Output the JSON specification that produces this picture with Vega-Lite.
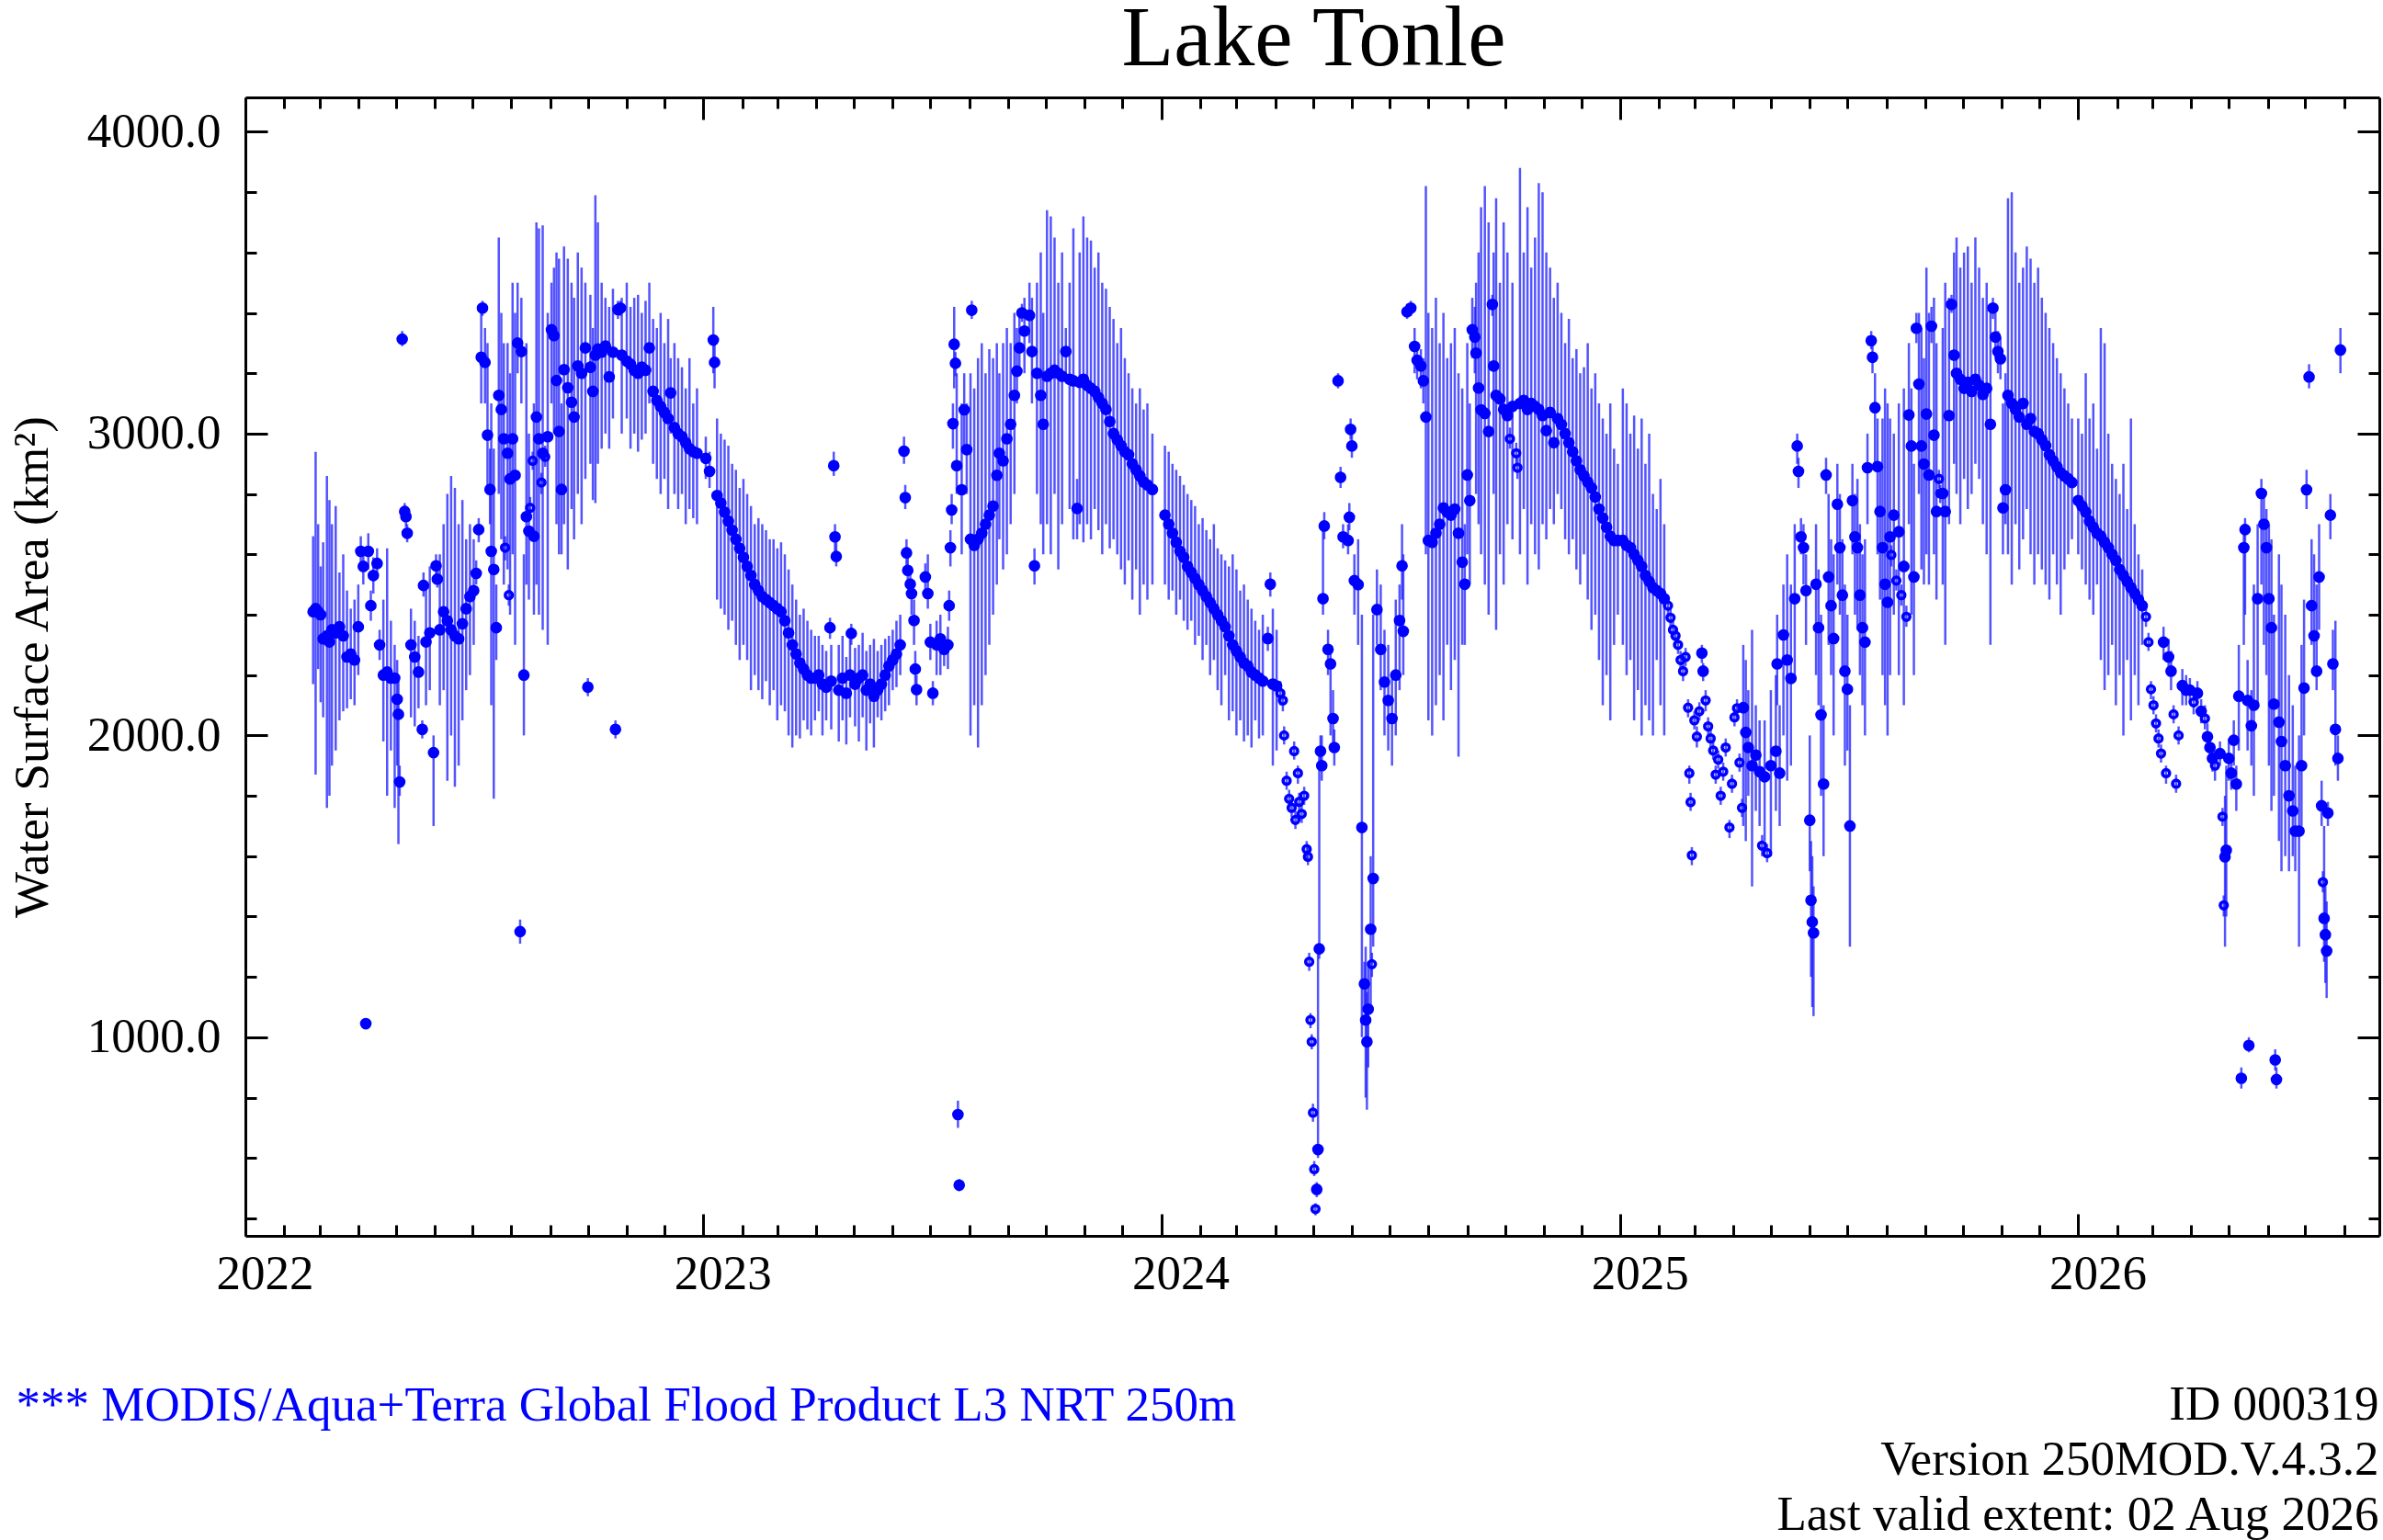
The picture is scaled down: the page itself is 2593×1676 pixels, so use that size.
{
  "$schema": "https://vega.github.io/schema/vega-lite/v6.json",
  "width": 2322, "height": 1239,
  "autosize": {"type": "none"},
  "padding": {"left": 267, "top": 106, "right": 4, "bottom": 331},
  "background": "white",
  "config": {
    "view": {"stroke": null},
    "font": "Liberation Serif",
    "axis": {"grid": false, "domainColor": "black", "domainWidth": 3, "tickColor": "black", "tickWidth": 3,
             "labelFont": "Liberation Serif", "labelFontSize": 53, "labelColor": "black",
             "titleFont": "Liberation Serif", "titleFontSize": 53, "titleFontWeight": "normal", "titleColor": "black",
             "labelFlush": false, "labelOverlap": false, "labelBound": false}
  },
  "data": {"values": [
    {"t":"2022-02-24","v":2410,"lo":2170,"hi":2660},
    {"t":"2022-02-26","v":2420,"lo":1870,"hi":2940},
    {"t":"2022-02-28","v":2410,"lo":2220,"hi":2700},
    {"t":"2022-03-02","v":2400,"lo":2110,"hi":2560},
    {"t":"2022-03-04","v":2320,"lo":2060,"hi":2640},
    {"t":"2022-03-07","v":2330,"lo":1760,"hi":2860},
    {"t":"2022-03-09","v":2310,"lo":1800,"hi":2780},
    {"t":"2022-03-11","v":2350,"lo":1900,"hi":2700},
    {"t":"2022-03-14","v":2340,"lo":1950,"hi":2760},
    {"t":"2022-03-17","v":2360,"lo":2050,"hi":2540},
    {"t":"2022-03-20","v":2330,"lo":2080,"hi":2600},
    {"t":"2022-03-23","v":2260,"lo":2090,"hi":2480},
    {"t":"2022-03-26","v":2270,"lo":2120,"hi":2420},
    {"t":"2022-03-29","v":2250,"lo":2100,"hi":2450},
    {"t":"2022-04-01","v":2360,"lo":2200,"hi":2500},
    {"t":"2022-04-03","v":2610,"lo":2560,"hi":2660},
    {"t":"2022-04-05","v":2560,"lo":2500,"hi":2620},
    {"t":"2022-04-07","v":1045,"lo":1030,"hi":1060},
    {"t":"2022-04-09","v":2610,"lo":2550,"hi":2670},
    {"t":"2022-04-11","v":2430,"lo":2380,"hi":2480},
    {"t":"2022-04-13","v":2530,"lo":2470,"hi":2590},
    {"t":"2022-04-16","v":2570,"lo":2520,"hi":2620},
    {"t":"2022-04-18","v":2300,"lo":2250,"hi":2350},
    {"t":"2022-04-21","v":2200,"lo":1980,"hi":2450},
    {"t":"2022-04-24","v":2210,"lo":1800,"hi":2620},
    {"t":"2022-04-27","v":2190,"lo":1950,"hi":2380},
    {"t":"2022-04-30","v":2190,"lo":1760,"hi":2300},
    {"t":"2022-05-02","v":2120,"lo":1900,"hi":2250},
    {"t":"2022-05-03","v":2070,"lo":1640,"hi":2200},
    {"t":"2022-05-04","v":1846,"lo":1800,"hi":1900},
    {"t":"2022-05-06","v":3313,"lo":3290,"hi":3340},
    {"t":"2022-05-08","v":2742,"lo":2710,"hi":2770},
    {"t":"2022-05-09","v":2725,"lo":2690,"hi":2760},
    {"t":"2022-05-10","v":2670,"lo":2640,"hi":2700},
    {"t":"2022-05-13","v":2300,"lo":2060,"hi":2420},
    {"t":"2022-05-16","v":2260,"lo":2030,"hi":2380},
    {"t":"2022-05-19","v":2210,"lo":2090,"hi":2330},
    {"t":"2022-05-22","v":2020,"lo":1990,"hi":2050},
    {"t":"2022-05-23","v":2497,"lo":2460,"hi":2540},
    {"t":"2022-05-25","v":2310,"lo":2100,"hi":2500},
    {"t":"2022-05-28","v":2340,"lo":2150,"hi":2560},
    {"t":"2022-05-31","v":1943,"lo":1700,"hi":2000},
    {"t":"2022-06-02","v":2562,"lo":2530,"hi":2600},
    {"t":"2022-06-03","v":2518,"lo":2490,"hi":2550},
    {"t":"2022-06-05","v":2350,"lo":2100,"hi":2600},
    {"t":"2022-06-08","v":2410,"lo":2150,"hi":2700},
    {"t":"2022-06-11","v":2380,"lo":1850,"hi":2800},
    {"t":"2022-06-14","v":2350,"lo":2000,"hi":2860},
    {"t":"2022-06-17","v":2330,"lo":1830,"hi":2820},
    {"t":"2022-06-20","v":2320,"lo":1900,"hi":2700},
    {"t":"2022-06-23","v":2370,"lo":2050,"hi":2780},
    {"t":"2022-06-26","v":2420,"lo":2150,"hi":2650},
    {"t":"2022-06-29","v":2460,"lo":2200,"hi":2700},
    {"t":"2022-07-02","v":2480,"lo":2300,"hi":2650},
    {"t":"2022-07-04","v":2537,"lo":2500,"hi":2580},
    {"t":"2022-07-06","v":2682,"lo":2640,"hi":2720},
    {"t":"2022-07-08","v":3253,"lo":3100,"hi":3400},
    {"t":"2022-07-09","v":3416,"lo":3390,"hi":3440},
    {"t":"2022-07-11","v":3236,"lo":3100,"hi":3350},
    {"t":"2022-07-13","v":2995,"lo":2800,"hi":3300},
    {"t":"2022-07-15","v":2815,"lo":2700,"hi":2950},
    {"t":"2022-07-16","v":2610,"lo":2100,"hi":3100},
    {"t":"2022-07-18","v":2550,"lo":1790,"hi":2950},
    {"t":"2022-07-20","v":2357,"lo":2250,"hi":2500},
    {"t":"2022-07-22","v":3127,"lo":2800,"hi":3650},
    {"t":"2022-07-24","v":3080,"lo":2650,"hi":3400},
    {"t":"2022-07-26","v":2983,"lo":2500,"hi":3300},
    {"t":"2022-07-27","v":2622,"lo":2580,"hi":2660,"o":1},
    {"t":"2022-07-29","v":2935,"lo":2550,"hi":3300},
    {"t":"2022-07-30","v":2465,"lo":2430,"hi":2500,"o":1},
    {"t":"2022-07-31","v":2850,"lo":2400,"hi":3200},
    {"t":"2022-08-02","v":2983,"lo":2600,"hi":3500},
    {"t":"2022-08-04","v":2862,"lo":2300,"hi":3400},
    {"t":"2022-08-06","v":3300,"lo":3200,"hi":3500},
    {"t":"2022-08-08","v":1350,"lo":1310,"hi":1390},
    {"t":"2022-08-09","v":3272,"lo":3100,"hi":3450},
    {"t":"2022-08-11","v":2200,"lo":2000,"hi":2600},
    {"t":"2022-08-13","v":2725,"lo":2500,"hi":3300},
    {"t":"2022-08-15","v":2677,"lo":2450,"hi":3000},
    {"t":"2022-08-16","v":2754,"lo":2720,"hi":2790,"o":1},
    {"t":"2022-08-18","v":2910,"lo":2880,"hi":2940,"o":1},
    {"t":"2022-08-19","v":2660,"lo":2400,"hi":3100},
    {"t":"2022-08-21","v":3055,"lo":2500,"hi":3700},
    {"t":"2022-08-23","v":2983,"lo":2400,"hi":3680},
    {"t":"2022-08-25","v":2838,"lo":2800,"hi":2870,"o":1},
    {"t":"2022-08-26","v":2935,"lo":2350,"hi":3690},
    {"t":"2022-08-28","v":2923,"lo":2890,"hi":2960,"o":1},
    {"t":"2022-08-30","v":2990,"lo":2300,"hi":3400},
    {"t":"2022-09-02","v":3344,"lo":3100,"hi":3500},
    {"t":"2022-09-04","v":3325,"lo":3000,"hi":3550},
    {"t":"2022-09-06","v":3176,"lo":2700,"hi":3600},
    {"t":"2022-09-08","v":3007,"lo":2600,"hi":3580},
    {"t":"2022-09-10","v":2815,"lo":2600,"hi":3100},
    {"t":"2022-09-12","v":3212,"lo":2700,"hi":3620},
    {"t":"2022-09-15","v":3152,"lo":2550,"hi":3580},
    {"t":"2022-09-18","v":3104,"lo":2750,"hi":3500},
    {"t":"2022-09-20","v":3055,"lo":2650,"hi":3450},
    {"t":"2022-09-23","v":3224,"lo":2800,"hi":3600},
    {"t":"2022-09-26","v":3200,"lo":2700,"hi":3550},
    {"t":"2022-09-29","v":3284,"lo":2850,"hi":3500},
    {"t":"2022-10-01","v":2160,"lo":2130,"hi":2190},
    {"t":"2022-10-03","v":3220,"lo":2900,"hi":3460},
    {"t":"2022-10-05","v":3140,"lo":2780,"hi":3350},
    {"t":"2022-10-07","v":3260,"lo":2770,"hi":3790},
    {"t":"2022-10-09","v":3280,"lo":2900,"hi":3700},
    {"t":"2022-10-12","v":3270,"lo":2950,"hi":3500},
    {"t":"2022-10-15","v":3290,"lo":3000,"hi":3450},
    {"t":"2022-10-18","v":3188,"lo":2950,"hi":3420},
    {"t":"2022-10-21","v":3270,"lo":3050,"hi":3480},
    {"t":"2022-10-23","v":2020,"lo":1990,"hi":2050},
    {"t":"2022-10-25","v":3411,"lo":3380,"hi":3440},
    {"t":"2022-10-27","v":3416,"lo":3390,"hi":3440},
    {"t":"2022-10-28","v":3260,"lo":3000,"hi":3450},
    {"t":"2022-11-01","v":3240,"lo":3050,"hi":3500},
    {"t":"2022-11-04","v":3230,"lo":2950,"hi":3420},
    {"t":"2022-11-07","v":3210,"lo":3000,"hi":3450},
    {"t":"2022-11-10","v":3200,"lo":2940,"hi":3460},
    {"t":"2022-11-13","v":3220,"lo":2980,"hi":3400},
    {"t":"2022-11-16","v":3210,"lo":3000,"hi":3440},
    {"t":"2022-11-19","v":3284,"lo":3100,"hi":3500},
    {"t":"2022-11-22","v":3140,"lo":2900,"hi":3380},
    {"t":"2022-11-25","v":3110,"lo":2850,"hi":3350},
    {"t":"2022-11-28","v":3090,"lo":2800,"hi":3400},
    {"t":"2022-12-01","v":3070,"lo":2850,"hi":3300},
    {"t":"2022-12-04","v":3050,"lo":2750,"hi":3380},
    {"t":"2022-12-06","v":3135,"lo":3000,"hi":3250},
    {"t":"2022-12-09","v":3020,"lo":2800,"hi":3300},
    {"t":"2022-12-12","v":3000,"lo":2750,"hi":3250},
    {"t":"2022-12-15","v":2990,"lo":2800,"hi":3220},
    {"t":"2022-12-18","v":2970,"lo":2700,"hi":3150},
    {"t":"2022-12-21","v":2950,"lo":2750,"hi":3250},
    {"t":"2022-12-24","v":2940,"lo":2720,"hi":3100},
    {"t":"2022-12-27","v":2935,"lo":2700,"hi":3150},
    {"t":"2023-01-03","v":2918,"lo":2850,"hi":2990},
    {"t":"2023-01-06","v":2875,"lo":2820,"hi":2940},
    {"t":"2023-01-09","v":3310,"lo":3200,"hi":3420},
    {"t":"2023-01-10","v":3236,"lo":3150,"hi":3300},
    {"t":"2023-01-12","v":2795,"lo":2450,"hi":3050},
    {"t":"2023-01-15","v":2770,"lo":2420,"hi":3000},
    {"t":"2023-01-18","v":2740,"lo":2400,"hi":2980},
    {"t":"2023-01-21","v":2710,"lo":2350,"hi":2960},
    {"t":"2023-01-24","v":2680,"lo":2380,"hi":2900},
    {"t":"2023-01-27","v":2650,"lo":2300,"hi":2880},
    {"t":"2023-01-30","v":2620,"lo":2250,"hi":2820},
    {"t":"2023-02-02","v":2590,"lo":2300,"hi":2850},
    {"t":"2023-02-05","v":2560,"lo":2250,"hi":2800},
    {"t":"2023-02-08","v":2530,"lo":2150,"hi":2760},
    {"t":"2023-02-11","v":2500,"lo":2200,"hi":2700},
    {"t":"2023-02-14","v":2480,"lo":2150,"hi":2720},
    {"t":"2023-02-17","v":2460,"lo":2120,"hi":2700},
    {"t":"2023-02-20","v":2450,"lo":2180,"hi":2680},
    {"t":"2023-02-23","v":2440,"lo":2100,"hi":2650},
    {"t":"2023-02-26","v":2430,"lo":2150,"hi":2650},
    {"t":"2023-03-01","v":2420,"lo":2050,"hi":2620},
    {"t":"2023-03-04","v":2410,"lo":2100,"hi":2640},
    {"t":"2023-03-07","v":2380,"lo":2080,"hi":2600},
    {"t":"2023-03-10","v":2340,"lo":2000,"hi":2550},
    {"t":"2023-03-13","v":2300,"lo":1960,"hi":2500},
    {"t":"2023-03-16","v":2270,"lo":2000,"hi":2450},
    {"t":"2023-03-19","v":2240,"lo":1990,"hi":2400},
    {"t":"2023-03-22","v":2220,"lo":2050,"hi":2420},
    {"t":"2023-03-25","v":2200,"lo":2020,"hi":2380},
    {"t":"2023-03-28","v":2190,"lo":2000,"hi":2350},
    {"t":"2023-03-31","v":2190,"lo":2050,"hi":2330},
    {"t":"2023-04-03","v":2200,"lo":2080,"hi":2330},
    {"t":"2023-04-06","v":2170,"lo":2000,"hi":2300},
    {"t":"2023-04-09","v":2160,"lo":2050,"hi":2280},
    {"t":"2023-04-12","v":2357,"lo":2320,"hi":2390},
    {"t":"2023-04-13","v":2180,"lo":2020,"hi":2300},
    {"t":"2023-04-15","v":2894,"lo":2860,"hi":2940},
    {"t":"2023-04-16","v":2658,"lo":2610,"hi":2700},
    {"t":"2023-04-17","v":2593,"lo":2560,"hi":2640},
    {"t":"2023-04-19","v":2150,"lo":1980,"hi":2300},
    {"t":"2023-04-22","v":2190,"lo":2050,"hi":2330},
    {"t":"2023-04-25","v":2140,"lo":1970,"hi":2260},
    {"t":"2023-04-28","v":2200,"lo":2060,"hi":2320},
    {"t":"2023-04-29","v":2338,"lo":2300,"hi":2370},
    {"t":"2023-05-02","v":2170,"lo":2030,"hi":2290},
    {"t":"2023-05-05","v":2190,"lo":1980,"hi":2300},
    {"t":"2023-05-08","v":2200,"lo":2060,"hi":2340},
    {"t":"2023-05-11","v":2150,"lo":1950,"hi":2280},
    {"t":"2023-05-14","v":2170,"lo":2040,"hi":2300},
    {"t":"2023-05-17","v":2130,"lo":1960,"hi":2320},
    {"t":"2023-05-20","v":2150,"lo":2060,"hi":2280},
    {"t":"2023-05-23","v":2170,"lo":2050,"hi":2300},
    {"t":"2023-05-26","v":2200,"lo":2080,"hi":2320},
    {"t":"2023-05-29","v":2230,"lo":2100,"hi":2330},
    {"t":"2023-06-01","v":2250,"lo":2150,"hi":2350},
    {"t":"2023-06-04","v":2270,"lo":2160,"hi":2380},
    {"t":"2023-06-07","v":2300,"lo":2200,"hi":2400},
    {"t":"2023-06-10","v":2942,"lo":2900,"hi":2990},
    {"t":"2023-06-11","v":2788,"lo":2750,"hi":2830},
    {"t":"2023-06-12","v":2605,"lo":2560,"hi":2650},
    {"t":"2023-06-13","v":2547,"lo":2500,"hi":2600},
    {"t":"2023-06-15","v":2501,"lo":2460,"hi":2540},
    {"t":"2023-06-16","v":2470,"lo":2400,"hi":2520},
    {"t":"2023-06-18","v":2381,"lo":2300,"hi":2450},
    {"t":"2023-06-19","v":2220,"lo":2150,"hi":2280},
    {"t":"2023-06-20","v":2152,"lo":2100,"hi":2200},
    {"t":"2023-06-27","v":2525,"lo":2480,"hi":2570},
    {"t":"2023-06-29","v":2470,"lo":2420,"hi":2600},
    {"t":"2023-07-01","v":2309,"lo":2250,"hi":2370},
    {"t":"2023-07-03","v":2140,"lo":2100,"hi":2180},
    {"t":"2023-07-06","v":2300,"lo":2200,"hi":2380},
    {"t":"2023-07-09","v":2320,"lo":2200,"hi":2400},
    {"t":"2023-07-12","v":2285,"lo":2230,"hi":2330},
    {"t":"2023-07-15","v":2300,"lo":2220,"hi":2360},
    {"t":"2023-07-16","v":2430,"lo":2380,"hi":2480},
    {"t":"2023-07-17","v":2622,"lo":2560,"hi":2680},
    {"t":"2023-07-18","v":2747,"lo":2700,"hi":2800},
    {"t":"2023-07-19","v":3033,"lo":2950,"hi":3100},
    {"t":"2023-07-20","v":3296,"lo":3150,"hi":3420},
    {"t":"2023-07-21","v":3233,"lo":3190,"hi":3270},
    {"t":"2023-07-22","v":2894,"lo":2800,"hi":3200},
    {"t":"2023-07-23","v":744,"lo":700,"hi":790},
    {"t":"2023-07-24","v":510,"lo":490,"hi":530},
    {"t":"2023-07-26","v":2814,"lo":2600,"hi":3100},
    {"t":"2023-07-28","v":3079,"lo":2950,"hi":3200},
    {"t":"2023-07-30","v":2947,"lo":2800,"hi":3100},
    {"t":"2023-08-02","v":2650,"lo":2000,"hi":3200},
    {"t":"2023-08-03","v":3409,"lo":3380,"hi":3440},
    {"t":"2023-08-05","v":2630,"lo":2100,"hi":3150},
    {"t":"2023-08-08","v":2650,"lo":1960,"hi":3250},
    {"t":"2023-08-11","v":2670,"lo":2100,"hi":3300},
    {"t":"2023-08-14","v":2700,"lo":2200,"hi":3200},
    {"t":"2023-08-17","v":2730,"lo":2300,"hi":3280},
    {"t":"2023-08-20","v":2760,"lo":2400,"hi":3250},
    {"t":"2023-08-23","v":2862,"lo":2500,"hi":3300},
    {"t":"2023-08-25","v":2935,"lo":2650,"hi":3200},
    {"t":"2023-08-28","v":2910,"lo":2550,"hi":3300},
    {"t":"2023-08-31","v":2983,"lo":2600,"hi":3350},
    {"t":"2023-09-03","v":3031,"lo":2700,"hi":3300},
    {"t":"2023-09-06","v":3127,"lo":2800,"hi":3400},
    {"t":"2023-09-08","v":3207,"lo":3100,"hi":3350},
    {"t":"2023-09-10","v":3284,"lo":3200,"hi":3400},
    {"t":"2023-09-12","v":3400,"lo":3370,"hi":3430},
    {"t":"2023-09-14","v":3340,"lo":3200,"hi":3450},
    {"t":"2023-09-18","v":3392,"lo":3300,"hi":3500},
    {"t":"2023-09-20","v":3272,"lo":3100,"hi":3450},
    {"t":"2023-09-22","v":2562,"lo":2500,"hi":2620},
    {"t":"2023-09-24","v":3200,"lo":2800,"hi":3500},
    {"t":"2023-09-27","v":3127,"lo":2700,"hi":3600},
    {"t":"2023-09-29","v":3031,"lo":2600,"hi":3400},
    {"t":"2023-10-02","v":3190,"lo":2700,"hi":3740},
    {"t":"2023-10-05","v":3200,"lo":2600,"hi":3720},
    {"t":"2023-10-08","v":3210,"lo":2800,"hi":3650},
    {"t":"2023-10-11","v":3200,"lo":2550,"hi":3500},
    {"t":"2023-10-14","v":3190,"lo":2700,"hi":3600},
    {"t":"2023-10-17","v":3272,"lo":3200,"hi":3350},
    {"t":"2023-10-20","v":3180,"lo":2750,"hi":3500},
    {"t":"2023-10-23","v":3175,"lo":2650,"hi":3680},
    {"t":"2023-10-26","v":2752,"lo":2650,"hi":2850},
    {"t":"2023-10-28","v":3170,"lo":2700,"hi":3600},
    {"t":"2023-10-31","v":3180,"lo":2640,"hi":3720},
    {"t":"2023-11-03","v":3160,"lo":2700,"hi":3650},
    {"t":"2023-11-06","v":3150,"lo":2650,"hi":3640},
    {"t":"2023-11-09","v":3140,"lo":2750,"hi":3550},
    {"t":"2023-11-12","v":3120,"lo":2680,"hi":3600},
    {"t":"2023-11-15","v":3100,"lo":2600,"hi":3500},
    {"t":"2023-11-18","v":3080,"lo":2700,"hi":3480},
    {"t":"2023-11-21","v":3040,"lo":2620,"hi":3420},
    {"t":"2023-11-24","v":3000,"lo":2650,"hi":3380},
    {"t":"2023-11-27","v":2980,"lo":2600,"hi":3300},
    {"t":"2023-11-30","v":2960,"lo":2550,"hi":3350},
    {"t":"2023-12-03","v":2940,"lo":2500,"hi":3250},
    {"t":"2023-12-06","v":2930,"lo":2580,"hi":3200},
    {"t":"2023-12-09","v":2900,"lo":2450,"hi":3150},
    {"t":"2023-12-12","v":2880,"lo":2550,"hi":3100},
    {"t":"2023-12-15","v":2860,"lo":2400,"hi":3150},
    {"t":"2023-12-18","v":2840,"lo":2500,"hi":3080},
    {"t":"2023-12-21","v":2830,"lo":2450,"hi":3100},
    {"t":"2023-12-25","v":2815,"lo":2500,"hi":3000},
    {"t":"2024-01-04","v":2730,"lo":2500,"hi":2960},
    {"t":"2024-01-07","v":2700,"lo":2450,"hi":2940},
    {"t":"2024-01-10","v":2670,"lo":2480,"hi":2900},
    {"t":"2024-01-13","v":2640,"lo":2400,"hi":2880},
    {"t":"2024-01-16","v":2610,"lo":2450,"hi":2860},
    {"t":"2024-01-19","v":2590,"lo":2380,"hi":2830},
    {"t":"2024-01-22","v":2560,"lo":2350,"hi":2800},
    {"t":"2024-01-25","v":2540,"lo":2380,"hi":2780},
    {"t":"2024-01-28","v":2520,"lo":2300,"hi":2760},
    {"t":"2024-01-31","v":2500,"lo":2330,"hi":2700},
    {"t":"2024-02-03","v":2480,"lo":2250,"hi":2720},
    {"t":"2024-02-06","v":2460,"lo":2300,"hi":2680},
    {"t":"2024-02-09","v":2440,"lo":2200,"hi":2650},
    {"t":"2024-02-12","v":2420,"lo":2250,"hi":2700},
    {"t":"2024-02-15","v":2400,"lo":2150,"hi":2620},
    {"t":"2024-02-18","v":2380,"lo":2100,"hi":2600},
    {"t":"2024-02-21","v":2360,"lo":2200,"hi":2580},
    {"t":"2024-02-24","v":2330,"lo":2050,"hi":2560},
    {"t":"2024-02-27","v":2300,"lo":2080,"hi":2600},
    {"t":"2024-03-01","v":2280,"lo":2000,"hi":2550},
    {"t":"2024-03-04","v":2260,"lo":2050,"hi":2480},
    {"t":"2024-03-07","v":2240,"lo":1980,"hi":2500},
    {"t":"2024-03-10","v":2230,"lo":2000,"hi":2450},
    {"t":"2024-03-13","v":2210,"lo":1960,"hi":2420},
    {"t":"2024-03-16","v":2200,"lo":2050,"hi":2380},
    {"t":"2024-03-19","v":2190,"lo":1990,"hi":2350},
    {"t":"2024-03-22","v":2180,"lo":2000,"hi":2400},
    {"t":"2024-03-26","v":2321,"lo":2280,"hi":2360},
    {"t":"2024-03-28","v":2501,"lo":2460,"hi":2540},
    {"t":"2024-03-30","v":2170,"lo":1900,"hi":2420},
    {"t":"2024-04-02","v":2164,"lo":1950,"hi":2350},
    {"t":"2024-04-05","v":2140,"lo":2100,"hi":2180,"o":1},
    {"t":"2024-04-07","v":2116,"lo":2080,"hi":2150,"o":1},
    {"t":"2024-04-08","v":2000,"lo":1970,"hi":2030,"o":1},
    {"t":"2024-04-10","v":1850,"lo":1820,"hi":1880,"o":1},
    {"t":"2024-04-12","v":1790,"lo":1760,"hi":1820,"o":1},
    {"t":"2024-04-14","v":1760,"lo":1730,"hi":1790,"o":1},
    {"t":"2024-04-16","v":1948,"lo":1920,"hi":1980,"o":1},
    {"t":"2024-04-17","v":1720,"lo":1690,"hi":1750,"o":1},
    {"t":"2024-04-19","v":1875,"lo":1840,"hi":1900,"o":1},
    {"t":"2024-04-20","v":1780,"lo":1750,"hi":1810,"o":1},
    {"t":"2024-04-22","v":1740,"lo":1710,"hi":1770,"o":1},
    {"t":"2024-04-24","v":1800,"lo":1770,"hi":1830,"o":1},
    {"t":"2024-04-26","v":1623,"lo":1590,"hi":1650,"o":1},
    {"t":"2024-04-27","v":1598,"lo":1570,"hi":1630,"o":1},
    {"t":"2024-04-28","v":1250,"lo":1220,"hi":1280,"o":1},
    {"t":"2024-04-29","v":1057,"lo":1030,"hi":1080,"o":1},
    {"t":"2024-04-30","v":985,"lo":960,"hi":1010,"o":1},
    {"t":"2024-05-01","v":750,"lo":720,"hi":780,"o":1},
    {"t":"2024-05-02","v":563,"lo":540,"hi":590,"o":1},
    {"t":"2024-05-03","v":431,"lo":410,"hi":450,"o":1},
    {"t":"2024-05-04","v":496,"lo":470,"hi":520},
    {"t":"2024-05-05","v":628,"lo":600,"hi":1290},
    {"t":"2024-05-06","v":1293,"lo":1260,"hi":1960},
    {"t":"2024-05-07","v":1948,"lo":1900,"hi":2000},
    {"t":"2024-05-08","v":1900,"lo":1850,"hi":2000},
    {"t":"2024-05-09","v":2453,"lo":2400,"hi":2700},
    {"t":"2024-05-10","v":2694,"lo":2650,"hi":2740},
    {"t":"2024-05-13","v":2285,"lo":2200,"hi":2350},
    {"t":"2024-05-15","v":2237,"lo":2000,"hi":2300},
    {"t":"2024-05-17","v":2056,"lo":1950,"hi":2150},
    {"t":"2024-05-18","v":1960,"lo":1900,"hi":2020},
    {"t":"2024-05-21","v":3175,"lo":3150,"hi":3200},
    {"t":"2024-05-23","v":2855,"lo":2820,"hi":2890},
    {"t":"2024-05-25","v":2658,"lo":2620,"hi":2700},
    {"t":"2024-05-29","v":2646,"lo":2600,"hi":2700},
    {"t":"2024-05-30","v":2723,"lo":2680,"hi":2770},
    {"t":"2024-05-31","v":3014,"lo":2980,"hi":3050},
    {"t":"2024-06-01","v":2959,"lo":2920,"hi":3000},
    {"t":"2024-06-03","v":2513,"lo":2400,"hi":2600},
    {"t":"2024-06-06","v":2500,"lo":2300,"hi":2650},
    {"t":"2024-06-09","v":1695,"lo":1000,"hi":2400},
    {"t":"2024-06-11","v":1177,"lo":1100,"hi":1250},
    {"t":"2024-06-12","v":1057,"lo":800,"hi":1300},
    {"t":"2024-06-13","v":985,"lo":760,"hi":1150},
    {"t":"2024-06-14","v":1093,"lo":900,"hi":1250},
    {"t":"2024-06-16","v":1358,"lo":1100,"hi":1600},
    {"t":"2024-06-17","v":1242,"lo":1200,"hi":1280,"o":1},
    {"t":"2024-06-18","v":1526,"lo":1300,"hi":2400},
    {"t":"2024-06-21","v":2417,"lo":2300,"hi":2550},
    {"t":"2024-06-24","v":2285,"lo":2150,"hi":2500},
    {"t":"2024-06-27","v":2177,"lo":2000,"hi":2350},
    {"t":"2024-06-30","v":2116,"lo":1950,"hi":2300},
    {"t":"2024-07-03","v":2056,"lo":1900,"hi":2200},
    {"t":"2024-07-06","v":2200,"lo":2000,"hi":2450},
    {"t":"2024-07-09","v":2381,"lo":2150,"hi":2500},
    {"t":"2024-07-11","v":2562,"lo":2450,"hi":2700},
    {"t":"2024-07-12","v":2345,"lo":2200,"hi":2600},
    {"t":"2024-07-15","v":3404,"lo":3380,"hi":3430},
    {"t":"2024-07-18","v":3416,"lo":3390,"hi":3440},
    {"t":"2024-07-21","v":3289,"lo":3200,"hi":3350},
    {"t":"2024-07-23","v":3243,"lo":3180,"hi":3300},
    {"t":"2024-07-26","v":3224,"lo":3150,"hi":3280},
    {"t":"2024-07-28","v":3175,"lo":3100,"hi":3250},
    {"t":"2024-07-30","v":3055,"lo":2600,"hi":3820},
    {"t":"2024-08-01","v":2646,"lo":2050,"hi":3400},
    {"t":"2024-08-04","v":2640,"lo":2000,"hi":3350},
    {"t":"2024-08-07","v":2670,"lo":2100,"hi":3450},
    {"t":"2024-08-10","v":2700,"lo":2200,"hi":3300},
    {"t":"2024-08-13","v":2754,"lo":2050,"hi":3400},
    {"t":"2024-08-16","v":2740,"lo":2300,"hi":3250},
    {"t":"2024-08-19","v":2730,"lo":2150,"hi":3300},
    {"t":"2024-08-22","v":2750,"lo":2250,"hi":3350},
    {"t":"2024-08-25","v":2670,"lo":1930,"hi":3200},
    {"t":"2024-08-28","v":2574,"lo":2300,"hi":3150},
    {"t":"2024-08-30","v":2501,"lo":2300,"hi":2700},
    {"t":"2024-09-01","v":2863,"lo":2600,"hi":3300},
    {"t":"2024-09-03","v":2778,"lo":2500,"hi":3100},
    {"t":"2024-09-05","v":3344,"lo":3250,"hi":3450},
    {"t":"2024-09-07","v":3320,"lo":3200,"hi":3420},
    {"t":"2024-09-08","v":3267,"lo":2800,"hi":3500},
    {"t":"2024-09-10","v":3151,"lo":2700,"hi":3600},
    {"t":"2024-09-12","v":3079,"lo":2600,"hi":3750},
    {"t":"2024-09-15","v":3067,"lo":2500,"hi":3820},
    {"t":"2024-09-18","v":3007,"lo":2400,"hi":3700},
    {"t":"2024-09-21","v":3428,"lo":3390,"hi":3460},
    {"t":"2024-09-22","v":3224,"lo":2800,"hi":3600},
    {"t":"2024-09-24","v":3127,"lo":2350,"hi":3780},
    {"t":"2024-09-27","v":3115,"lo":2600,"hi":3500},
    {"t":"2024-09-30","v":3080,"lo":2500,"hi":3700},
    {"t":"2024-10-03","v":3060,"lo":2700,"hi":3600},
    {"t":"2024-10-05","v":2983,"lo":2950,"hi":3020,"o":1},
    {"t":"2024-10-07","v":3090,"lo":2650,"hi":3500},
    {"t":"2024-10-10","v":2935,"lo":2900,"hi":2970,"o":1},
    {"t":"2024-10-11","v":2887,"lo":2850,"hi":2920,"o":1},
    {"t":"2024-10-13","v":3100,"lo":2600,"hi":3880},
    {"t":"2024-10-16","v":3110,"lo":2750,"hi":3600},
    {"t":"2024-10-19","v":3080,"lo":2500,"hi":3750},
    {"t":"2024-10-22","v":3100,"lo":2700,"hi":3550},
    {"t":"2024-10-25","v":3090,"lo":2600,"hi":3650},
    {"t":"2024-10-28","v":3080,"lo":2550,"hi":3830},
    {"t":"2024-10-31","v":3060,"lo":2700,"hi":3800},
    {"t":"2024-11-03","v":3010,"lo":2650,"hi":3600},
    {"t":"2024-11-06","v":3070,"lo":2750,"hi":3550},
    {"t":"2024-11-09","v":2970,"lo":2700,"hi":3450},
    {"t":"2024-11-12","v":3050,"lo":2800,"hi":3500},
    {"t":"2024-11-15","v":3030,"lo":2750,"hi":3400},
    {"t":"2024-11-18","v":3000,"lo":2650,"hi":3300},
    {"t":"2024-11-21","v":2970,"lo":2600,"hi":3380},
    {"t":"2024-11-24","v":2940,"lo":2650,"hi":3250},
    {"t":"2024-11-27","v":2910,"lo":2550,"hi":3280},
    {"t":"2024-11-30","v":2880,"lo":2500,"hi":3200},
    {"t":"2024-12-03","v":2860,"lo":2600,"hi":3220},
    {"t":"2024-12-06","v":2840,"lo":2450,"hi":3300},
    {"t":"2024-12-09","v":2820,"lo":2350,"hi":3150},
    {"t":"2024-12-12","v":2790,"lo":2400,"hi":3200},
    {"t":"2024-12-15","v":2750,"lo":2250,"hi":3100},
    {"t":"2024-12-18","v":2720,"lo":2100,"hi":3050},
    {"t":"2024-12-21","v":2690,"lo":2200,"hi":3000},
    {"t":"2024-12-24","v":2660,"lo":2050,"hi":3100},
    {"t":"2024-12-27","v":2646,"lo":2300,"hi":2950},
    {"t":"2024-12-30","v":2646,"lo":2400,"hi":2900},
    {"t":"2025-01-03","v":2646,"lo":2300,"hi":3150},
    {"t":"2025-01-06","v":2630,"lo":2200,"hi":3100},
    {"t":"2025-01-09","v":2622,"lo":2250,"hi":3000},
    {"t":"2025-01-12","v":2600,"lo":2050,"hi":3060},
    {"t":"2025-01-15","v":2580,"lo":2150,"hi":2950},
    {"t":"2025-01-18","v":2560,"lo":2000,"hi":3050},
    {"t":"2025-01-21","v":2530,"lo":2100,"hi":2900},
    {"t":"2025-01-24","v":2510,"lo":2050,"hi":3000},
    {"t":"2025-01-27","v":2490,"lo":2000,"hi":2800},
    {"t":"2025-01-30","v":2480,"lo":2250,"hi":2750},
    {"t":"2025-02-02","v":2470,"lo":2100,"hi":2850},
    {"t":"2025-02-05","v":2453,"lo":2000,"hi":2700},
    {"t":"2025-02-08","v":2430,"lo":2400,"hi":2460,"o":1},
    {"t":"2025-02-10","v":2390,"lo":2360,"hi":2420,"o":1},
    {"t":"2025-02-12","v":2350,"lo":2320,"hi":2380,"o":1},
    {"t":"2025-02-14","v":2330,"lo":2300,"hi":2360,"o":1},
    {"t":"2025-02-16","v":2300,"lo":2270,"hi":2330,"o":1},
    {"t":"2025-02-18","v":2250,"lo":2220,"hi":2280,"o":1},
    {"t":"2025-02-20","v":2213,"lo":2180,"hi":2240,"o":1},
    {"t":"2025-02-22","v":2260,"lo":2230,"hi":2290,"o":1},
    {"t":"2025-02-24","v":2092,"lo":2060,"hi":2120,"o":1},
    {"t":"2025-02-25","v":1875,"lo":1840,"hi":1900,"o":1},
    {"t":"2025-02-26","v":1779,"lo":1750,"hi":1810,"o":1},
    {"t":"2025-02-27","v":1603,"lo":1570,"hi":1630,"o":1},
    {"t":"2025-03-01","v":2050,"lo":2020,"hi":2080,"o":1},
    {"t":"2025-03-03","v":1996,"lo":1960,"hi":2030,"o":1},
    {"t":"2025-03-05","v":2080,"lo":2050,"hi":2110,"o":1},
    {"t":"2025-03-07","v":2273,"lo":2240,"hi":2300},
    {"t":"2025-03-08","v":2213,"lo":2180,"hi":2240},
    {"t":"2025-03-10","v":2116,"lo":2080,"hi":2150,"o":1},
    {"t":"2025-03-12","v":2030,"lo":2000,"hi":2060,"o":1},
    {"t":"2025-03-14","v":1990,"lo":1960,"hi":2020,"o":1},
    {"t":"2025-03-16","v":1950,"lo":1920,"hi":1980,"o":1},
    {"t":"2025-03-18","v":1870,"lo":1840,"hi":1900,"o":1},
    {"t":"2025-03-20","v":1920,"lo":1890,"hi":1950,"o":1},
    {"t":"2025-03-22","v":1800,"lo":1770,"hi":1830,"o":1},
    {"t":"2025-03-24","v":1880,"lo":1850,"hi":1910,"o":1},
    {"t":"2025-03-26","v":1960,"lo":1930,"hi":1990,"o":1},
    {"t":"2025-03-29","v":1695,"lo":1660,"hi":1720,"o":1},
    {"t":"2025-03-31","v":1840,"lo":1810,"hi":1870,"o":1},
    {"t":"2025-04-02","v":2060,"lo":2030,"hi":2090,"o":1},
    {"t":"2025-04-04","v":2090,"lo":2060,"hi":2120,"o":1},
    {"t":"2025-04-06","v":1910,"lo":1880,"hi":1940,"o":1},
    {"t":"2025-04-08","v":1760,"lo":1730,"hi":1790,"o":1},
    {"t":"2025-04-09","v":2092,"lo":1700,"hi":2300},
    {"t":"2025-04-11","v":2010,"lo":1650,"hi":2250},
    {"t":"2025-04-13","v":1960,"lo":1800,"hi":2150},
    {"t":"2025-04-16","v":1900,"lo":1500,"hi":2350},
    {"t":"2025-04-19","v":1935,"lo":1750,"hi":2100},
    {"t":"2025-04-22","v":1880,"lo":1700,"hi":2050},
    {"t":"2025-04-24","v":1635,"lo":1600,"hi":1670,"o":1},
    {"t":"2025-04-26","v":1863,"lo":1650,"hi":2050},
    {"t":"2025-04-28","v":1610,"lo":1580,"hi":1640,"o":1},
    {"t":"2025-05-01","v":1900,"lo":1600,"hi":2150},
    {"t":"2025-05-05","v":1948,"lo":1750,"hi":2200},
    {"t":"2025-05-06","v":2237,"lo":2100,"hi":2400},
    {"t":"2025-05-08","v":1875,"lo":1700,"hi":2100},
    {"t":"2025-05-11","v":2333,"lo":2000,"hi":2500},
    {"t":"2025-05-14","v":2250,"lo":1850,"hi":2600},
    {"t":"2025-05-17","v":2189,"lo":1900,"hi":2500},
    {"t":"2025-05-20","v":2453,"lo":2200,"hi":2700},
    {"t":"2025-05-22","v":2959,"lo":2900,"hi":3000},
    {"t":"2025-05-23","v":2875,"lo":2820,"hi":2920},
    {"t":"2025-05-25","v":2658,"lo":2600,"hi":2720},
    {"t":"2025-05-27","v":2622,"lo":2500,"hi":2700},
    {"t":"2025-05-29","v":2480,"lo":2300,"hi":2600},
    {"t":"2025-06-01","v":1719,"lo":1550,"hi":2000},
    {"t":"2025-06-02","v":1454,"lo":1200,"hi":1650},
    {"t":"2025-06-03","v":1382,"lo":1100,"hi":1600},
    {"t":"2025-06-04","v":1346,"lo":1070,"hi":1500},
    {"t":"2025-06-06","v":2501,"lo":2200,"hi":2700},
    {"t":"2025-06-08","v":2357,"lo":2100,"hi":2550},
    {"t":"2025-06-10","v":2068,"lo":1800,"hi":2400},
    {"t":"2025-06-12","v":1839,"lo":1600,"hi":2100},
    {"t":"2025-06-14","v":2863,"lo":2800,"hi":2920},
    {"t":"2025-06-16","v":2525,"lo":2300,"hi":2800},
    {"t":"2025-06-18","v":2430,"lo":2200,"hi":2650},
    {"t":"2025-06-20","v":2321,"lo":2000,"hi":2600},
    {"t":"2025-06-23","v":2766,"lo":2500,"hi":2900},
    {"t":"2025-06-25","v":2622,"lo":2400,"hi":2800},
    {"t":"2025-06-27","v":2465,"lo":2200,"hi":2650},
    {"t":"2025-06-29","v":2213,"lo":1900,"hi":2500},
    {"t":"2025-07-01","v":2153,"lo":1950,"hi":2400},
    {"t":"2025-07-03","v":1700,"lo":1300,"hi":2100},
    {"t":"2025-07-05","v":2778,"lo":2600,"hi":2900},
    {"t":"2025-07-07","v":2658,"lo":2400,"hi":2800},
    {"t":"2025-07-09","v":2622,"lo":2350,"hi":2850},
    {"t":"2025-07-11","v":2465,"lo":2200,"hi":2700},
    {"t":"2025-07-13","v":2357,"lo":2100,"hi":2600},
    {"t":"2025-07-15","v":2309,"lo":2000,"hi":2650},
    {"t":"2025-07-17","v":2887,"lo":2700,"hi":3000},
    {"t":"2025-07-20","v":3308,"lo":3280,"hi":3340},
    {"t":"2025-07-21","v":3253,"lo":3200,"hi":3300},
    {"t":"2025-07-23","v":3086,"lo":2900,"hi":3200},
    {"t":"2025-07-25","v":2891,"lo":2600,"hi":3050},
    {"t":"2025-07-27","v":2742,"lo":2450,"hi":2900},
    {"t":"2025-07-29","v":2622,"lo":2200,"hi":3050},
    {"t":"2025-07-31","v":2501,"lo":2100,"hi":3150},
    {"t":"2025-08-02","v":2441,"lo":2000,"hi":3100},
    {"t":"2025-08-04","v":2658,"lo":2200,"hi":3050},
    {"t":"2025-08-05","v":2598,"lo":2560,"hi":2630,"o":1},
    {"t":"2025-08-07","v":2730,"lo":2400,"hi":3000},
    {"t":"2025-08-09","v":2513,"lo":2480,"hi":2550,"o":1},
    {"t":"2025-08-11","v":2675,"lo":2200,"hi":3100},
    {"t":"2025-08-13","v":2465,"lo":2430,"hi":2500,"o":1},
    {"t":"2025-08-15","v":2560,"lo":2100,"hi":3150},
    {"t":"2025-08-17","v":2393,"lo":2360,"hi":2430,"o":1},
    {"t":"2025-08-19","v":3062,"lo":2700,"hi":3300},
    {"t":"2025-08-21","v":2959,"lo":2400,"hi":3150},
    {"t":"2025-08-23","v":2525,"lo":2200,"hi":2900},
    {"t":"2025-08-25","v":3349,"lo":3300,"hi":3400},
    {"t":"2025-08-27","v":3164,"lo":2800,"hi":3400},
    {"t":"2025-08-29","v":2959,"lo":2550,"hi":3350},
    {"t":"2025-08-31","v":2899,"lo":2500,"hi":3250},
    {"t":"2025-09-02","v":3065,"lo":2600,"hi":3550},
    {"t":"2025-09-04","v":2863,"lo":2500,"hi":3400},
    {"t":"2025-09-06","v":3356,"lo":3300,"hi":3420},
    {"t":"2025-09-08","v":2995,"lo":2600,"hi":3450},
    {"t":"2025-09-10","v":2742,"lo":2450,"hi":3300},
    {"t":"2025-09-12","v":2850,"lo":2820,"hi":2880,"o":1},
    {"t":"2025-09-13","v":2802,"lo":2770,"hi":2830,"o":1},
    {"t":"2025-09-15","v":2802,"lo":2500,"hi":3350},
    {"t":"2025-09-17","v":2742,"lo":2300,"hi":3500},
    {"t":"2025-09-20","v":3060,"lo":2700,"hi":3450},
    {"t":"2025-09-22","v":3428,"lo":3400,"hi":3460},
    {"t":"2025-09-24","v":3260,"lo":2900,"hi":3600},
    {"t":"2025-09-26","v":3200,"lo":2800,"hi":3650},
    {"t":"2025-09-29","v":3180,"lo":2700,"hi":3550},
    {"t":"2025-10-02","v":3150,"lo":2850,"hi":3600},
    {"t":"2025-10-05","v":3170,"lo":2750,"hi":3620},
    {"t":"2025-10-08","v":3140,"lo":2800,"hi":3500},
    {"t":"2025-10-11","v":3180,"lo":2900,"hi":3650},
    {"t":"2025-10-14","v":3160,"lo":2850,"hi":3550},
    {"t":"2025-10-17","v":3130,"lo":2700,"hi":3450},
    {"t":"2025-10-20","v":3150,"lo":2600,"hi":3500},
    {"t":"2025-10-23","v":3031,"lo":2300,"hi":3400},
    {"t":"2025-10-25","v":3416,"lo":3380,"hi":3450},
    {"t":"2025-10-27","v":3320,"lo":3250,"hi":3400},
    {"t":"2025-10-29","v":3272,"lo":3200,"hi":3340},
    {"t":"2025-10-31","v":3248,"lo":3180,"hi":3320},
    {"t":"2025-11-02","v":2754,"lo":2600,"hi":3100},
    {"t":"2025-11-04","v":2814,"lo":2700,"hi":3200},
    {"t":"2025-11-06","v":3127,"lo":2600,"hi":3780},
    {"t":"2025-11-09","v":3100,"lo":2500,"hi":3800},
    {"t":"2025-11-12","v":3080,"lo":2700,"hi":3600},
    {"t":"2025-11-15","v":3055,"lo":2550,"hi":3500},
    {"t":"2025-11-18","v":3100,"lo":2650,"hi":3550},
    {"t":"2025-11-21","v":3031,"lo":2750,"hi":3620},
    {"t":"2025-11-24","v":3050,"lo":2600,"hi":3580},
    {"t":"2025-11-27","v":3007,"lo":2500,"hi":3500},
    {"t":"2025-11-30","v":3000,"lo":2600,"hi":3550},
    {"t":"2025-12-03","v":2980,"lo":2550,"hi":3450},
    {"t":"2025-12-06","v":2960,"lo":2500,"hi":3400},
    {"t":"2025-12-09","v":2930,"lo":2450,"hi":3350},
    {"t":"2025-12-12","v":2910,"lo":2600,"hi":3300},
    {"t":"2025-12-15","v":2890,"lo":2500,"hi":3250},
    {"t":"2025-12-18","v":2870,"lo":2400,"hi":3200},
    {"t":"2025-12-21","v":2860,"lo":2550,"hi":3150},
    {"t":"2025-12-24","v":2850,"lo":2600,"hi":3100},
    {"t":"2025-12-27","v":2838,"lo":2650,"hi":3050},
    {"t":"2026-01-01","v":2778,"lo":2600,"hi":3050},
    {"t":"2026-01-04","v":2760,"lo":2550,"hi":3000},
    {"t":"2026-01-07","v":2740,"lo":2500,"hi":3200},
    {"t":"2026-01-10","v":2710,"lo":2450,"hi":3050},
    {"t":"2026-01-13","v":2690,"lo":2400,"hi":3100},
    {"t":"2026-01-16","v":2670,"lo":2500,"hi":2950},
    {"t":"2026-01-19","v":2660,"lo":2250,"hi":3350},
    {"t":"2026-01-22","v":2640,"lo":2150,"hi":3300},
    {"t":"2026-01-25","v":2622,"lo":2200,"hi":3000},
    {"t":"2026-01-28","v":2600,"lo":2300,"hi":2900},
    {"t":"2026-01-31","v":2580,"lo":2100,"hi":2850},
    {"t":"2026-02-03","v":2550,"lo":2200,"hi":2800},
    {"t":"2026-02-06","v":2530,"lo":2000,"hi":2900},
    {"t":"2026-02-09","v":2510,"lo":2250,"hi":2750},
    {"t":"2026-02-12","v":2490,"lo":2050,"hi":3050},
    {"t":"2026-02-15","v":2470,"lo":2200,"hi":2700},
    {"t":"2026-02-18","v":2450,"lo":2100,"hi":2600},
    {"t":"2026-02-21","v":2430,"lo":2300,"hi":2550},
    {"t":"2026-02-24","v":2393,"lo":2360,"hi":2420,"o":1},
    {"t":"2026-02-26","v":2309,"lo":2280,"hi":2340,"o":1},
    {"t":"2026-02-28","v":2153,"lo":2120,"hi":2180,"o":1},
    {"t":"2026-03-02","v":2100,"lo":2070,"hi":2130,"o":1},
    {"t":"2026-03-04","v":2040,"lo":2010,"hi":2070,"o":1},
    {"t":"2026-03-06","v":1990,"lo":1960,"hi":2020,"o":1},
    {"t":"2026-03-08","v":1940,"lo":1910,"hi":1970,"o":1},
    {"t":"2026-03-10","v":2309,"lo":2250,"hi":2360},
    {"t":"2026-03-12","v":1875,"lo":1840,"hi":1900,"o":1},
    {"t":"2026-03-14","v":2260,"lo":2200,"hi":2320},
    {"t":"2026-03-16","v":2213,"lo":2150,"hi":2280},
    {"t":"2026-03-18","v":2070,"lo":2040,"hi":2100,"o":1},
    {"t":"2026-03-20","v":1840,"lo":1810,"hi":1870,"o":1},
    {"t":"2026-03-22","v":2000,"lo":1970,"hi":2030,"o":1},
    {"t":"2026-03-25","v":2165,"lo":2100,"hi":2220},
    {"t":"2026-03-28","v":2150,"lo":2100,"hi":2200},
    {"t":"2026-03-31","v":2150,"lo":2110,"hi":2190},
    {"t":"2026-04-03","v":2110,"lo":2070,"hi":2150,"o":1},
    {"t":"2026-04-06","v":2140,"lo":2100,"hi":2180},
    {"t":"2026-04-09","v":2080,"lo":2040,"hi":2120},
    {"t":"2026-04-12","v":2056,"lo":2020,"hi":2100,"o":1},
    {"t":"2026-04-14","v":1996,"lo":1950,"hi":2040},
    {"t":"2026-04-16","v":1960,"lo":1920,"hi":2000},
    {"t":"2026-04-18","v":1924,"lo":1880,"hi":1970},
    {"t":"2026-04-20","v":1900,"lo":1850,"hi":1950,"o":1},
    {"t":"2026-04-24","v":1940,"lo":1900,"hi":1980},
    {"t":"2026-04-26","v":1731,"lo":1700,"hi":1760,"o":1},
    {"t":"2026-04-27","v":1437,"lo":1400,"hi":1470,"o":1},
    {"t":"2026-04-28","v":1598,"lo":1300,"hi":1800},
    {"t":"2026-04-29","v":1620,"lo":1400,"hi":1900},
    {"t":"2026-05-01","v":1924,"lo":1850,"hi":1990},
    {"t":"2026-05-03","v":1875,"lo":1820,"hi":1930},
    {"t":"2026-05-05","v":1984,"lo":1900,"hi":2050},
    {"t":"2026-05-07","v":1839,"lo":1750,"hi":1900},
    {"t":"2026-05-09","v":2130,"lo":1950,"hi":2300},
    {"t":"2026-05-11","v":864,"lo":830,"hi":900},
    {"t":"2026-05-13","v":2622,"lo":2300,"hi":2700},
    {"t":"2026-05-14","v":2682,"lo":2400,"hi":2720},
    {"t":"2026-05-16","v":2116,"lo":1950,"hi":2250},
    {"t":"2026-05-17","v":973,"lo":950,"hi":1000},
    {"t":"2026-05-19","v":2032,"lo":1900,"hi":2150},
    {"t":"2026-05-21","v":2100,"lo":1800,"hi":2500},
    {"t":"2026-05-24","v":2453,"lo":2100,"hi":2700},
    {"t":"2026-05-27","v":2802,"lo":2500,"hi":2850},
    {"t":"2026-05-29","v":2700,"lo":2300,"hi":2800},
    {"t":"2026-05-31","v":2622,"lo":2200,"hi":2750},
    {"t":"2026-06-02","v":2453,"lo":1900,"hi":2700},
    {"t":"2026-06-04","v":2357,"lo":1750,"hi":2650},
    {"t":"2026-06-06","v":2104,"lo":1800,"hi":2400},
    {"t":"2026-06-07","v":925,"lo":890,"hi":960},
    {"t":"2026-06-08","v":860,"lo":830,"hi":900},
    {"t":"2026-06-10","v":2044,"lo":1650,"hi":2600},
    {"t":"2026-06-12","v":1980,"lo":1550,"hi":2500},
    {"t":"2026-06-15","v":1900,"lo":1600,"hi":2400},
    {"t":"2026-06-18","v":1800,"lo":1550,"hi":2200},
    {"t":"2026-06-21","v":1750,"lo":1600,"hi":2100},
    {"t":"2026-06-23","v":1683,"lo":1550,"hi":1900},
    {"t":"2026-06-26","v":1683,"lo":1300,"hi":2000},
    {"t":"2026-06-28","v":1900,"lo":1700,"hi":2300},
    {"t":"2026-06-30","v":2157,"lo":2000,"hi":2450},
    {"t":"2026-07-02","v":2814,"lo":2750,"hi":2880},
    {"t":"2026-07-04","v":3188,"lo":3150,"hi":3230},
    {"t":"2026-07-06","v":2430,"lo":2300,"hi":2650},
    {"t":"2026-07-08","v":2330,"lo":2200,"hi":2600},
    {"t":"2026-07-10","v":2213,"lo":2150,"hi":2500},
    {"t":"2026-07-12","v":2525,"lo":2350,"hi":2700},
    {"t":"2026-07-14","v":1767,"lo":1700,"hi":1850},
    {"t":"2026-07-15","v":1514,"lo":1480,"hi":1550,"o":1},
    {"t":"2026-07-16","v":1394,"lo":1250,"hi":1700},
    {"t":"2026-07-17","v":1340,"lo":1180,"hi":1500},
    {"t":"2026-07-18","v":1286,"lo":1130,"hi":1450},
    {"t":"2026-07-19","v":1743,"lo":1700,"hi":1780},
    {"t":"2026-07-21","v":2730,"lo":2650,"hi":2800},
    {"t":"2026-07-23","v":2237,"lo":2150,"hi":2350},
    {"t":"2026-07-25","v":2020,"lo":1900,"hi":2380},
    {"t":"2026-07-27","v":1924,"lo":1850,"hi":2000},
    {"t":"2026-07-29","v":3277,"lo":3200,"hi":3350}
  ]},
  "resolve": {"axis": {"x": "independent", "y": "independent"}},
  "layer": [
    {
      "mark": {"type": "rule", "color": "#1a1aff", "opacity": 0.75, "strokeWidth": 2.5},
      "encoding": {
        "x": {"field": "t", "type": "temporal",
              "scale": {"domain": [{"year": 2022, "month": 1, "date": 1}, {"year": 2026, "month": 8, "date": 29}], "nice": false},
              "axis": {"orient": "bottom", "tickCount": {"interval": "month", "step": 1},
                       "tickSize": {"condition": {"test": "month(datum.value) == 0", "value": -24}, "value": -12},
                       "labelExpr": "month(datum.value) == 0 ? timeFormat(datum.value, '%Y') : ''",
                       "labelPadding": 39, "labelOffset": 21,
                       "title": "*** MODIS/Aqua+Terra Global Flood Product L3 NRT 250m",
                       "titleColor": "#0000ff", "titleAnchor": "start", "titleAlign": "left",
                       "titleBaseline": "alphabetic", "titleX": -250, "titleY": 200}},
        "y": {"field": "lo", "type": "quantitative",
              "scale": {"domain": [342, 4114], "nice": false, "zero": false},
              "axis": {"orient": "left",
                       "values": [400, 600, 800, 1000, 1200, 1400, 1600, 1800, 2000, 2200, 2400, 2600, 2800, 3000, 3200, 3400, 3600, 3800, 4000],
                       "tickSize": {"condition": {"test": "datum.value % 1000 == 0", "value": -24}, "value": -12},
                       "labelExpr": "datum.value % 1000 == 0 ? format(datum.value, '.1f') : ''",
                       "labelPadding": 51,
                       "title": "Water Surface Area (km²)", "titleX": -232, "titleBaseline": "middle"}},
        "y2": {"field": "hi"}
      }
    },
    {
      "transform": [{"filter": "datum.o != 1"}],
      "mark": {"type": "point", "shape": "circle", "filled": true, "size": 160, "color": "#0000ff", "opacity": 1},
      "encoding": {
        "x": {"field": "t", "type": "temporal",
              "axis": {"orient": "top", "tickCount": {"interval": "month", "step": 1},
                       "tickSize": {"condition": {"test": "month(datum.value) == 0", "value": -24}, "value": -12},
                       "labels": false,
                       "title": "Lake Tonle", "titleFontSize": 93, "titleAnchor": null, "titleAlign": "center",
                       "titleBaseline": "alphabetic", "titleX": 1162, "titleY": -36}},
        "y": {"field": "v", "type": "quantitative",
              "axis": {"orient": "right",
                       "values": [400, 600, 800, 1000, 1200, 1400, 1600, 1800, 2000, 2200, 2400, 2600, 2800, 3000, 3200, 3400, 3600, 3800, 4000],
                       "tickSize": {"condition": {"test": "datum.value % 1000 == 0", "value": -24}, "value": -12},
                       "labels": false,
                       "title": ["ID 000319", "Version 250MOD.V.4.3.2", "Last valid extent: 02 Aug 2026"],
                       "titleAngle": 0, "titleAlign": "right", "titleBaseline": "alphabetic",
                       "titleLineHeight": 60, "titleX": -1, "titleY": 1438}}
      }
    },
    {
      "transform": [{"filter": "datum.o == 1"}],
      "mark": {"type": "point", "shape": "circle", "filled": false, "size": 60, "strokeWidth": 3.5, "color": "#0000ff", "opacity": 1},
      "encoding": {
        "x": {"field": "t", "type": "temporal", "axis": null},
        "y": {"field": "v", "type": "quantitative", "axis": null}
      }
    }
  ]
}
